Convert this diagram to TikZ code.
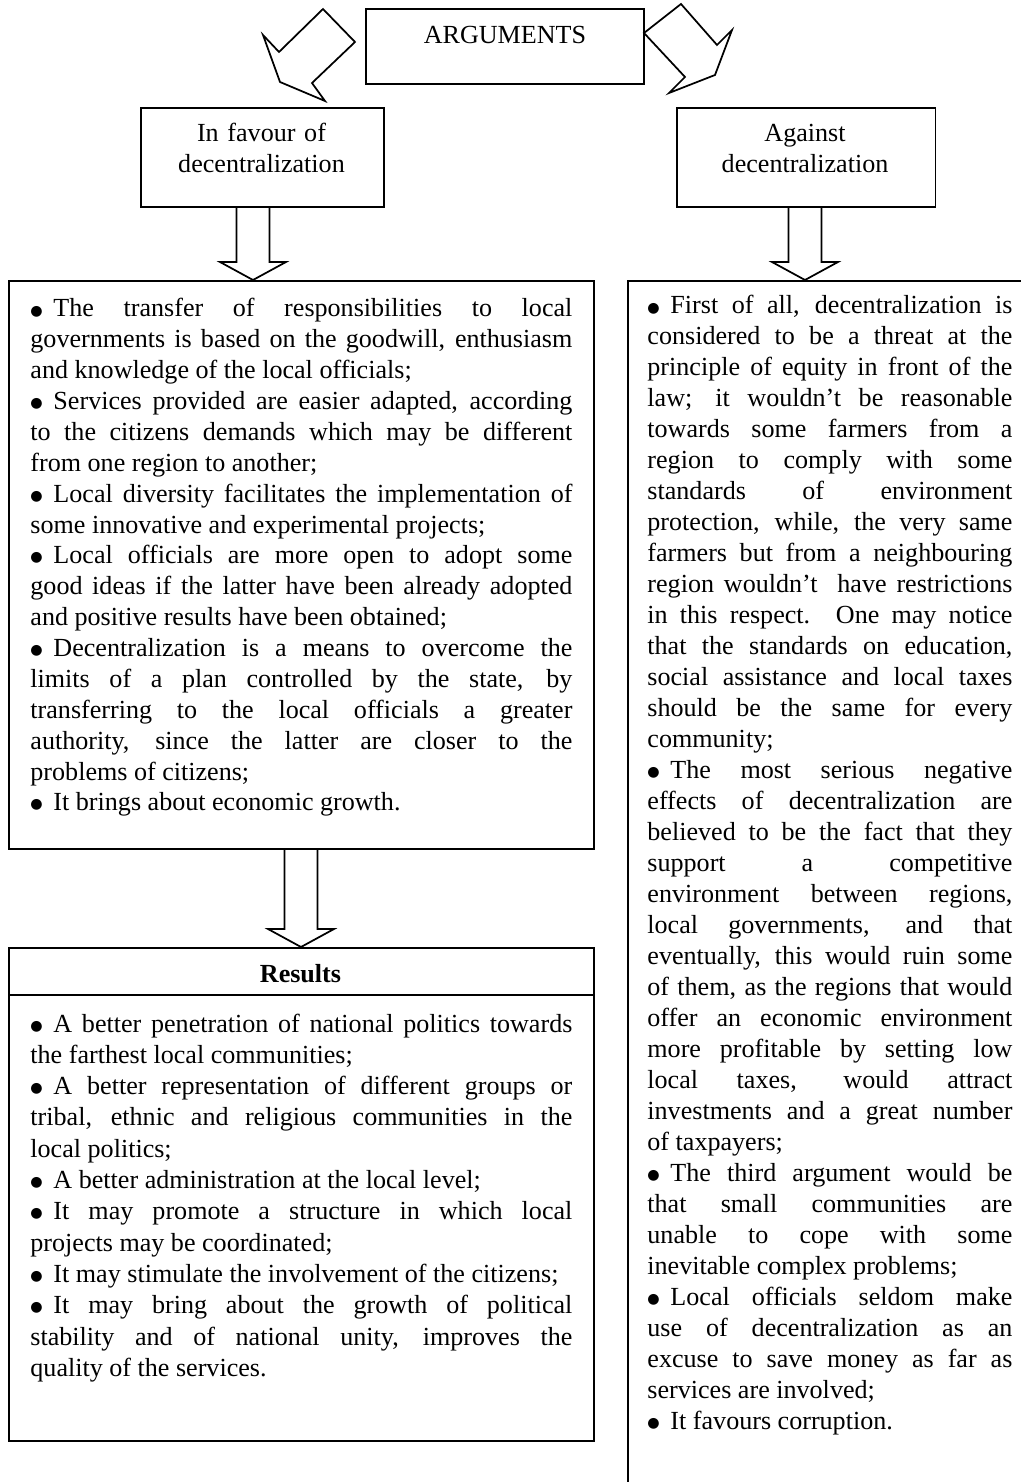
\documentclass[tikz,border=0pt]{standalone}
\usepackage{fontspec}
\setmainfont{Liberation Serif}
\newfontfamily\dotfont{DejaVu Sans}
\usepackage{tikz}
\usetikzlibrary{calc}
\tikzstyle{box} = [draw, line width=0.8pt, inner sep=0pt, anchor=north west]
\tikzstyle{blk} = [draw, line width=0.8pt, line join=miter]
\tikzstyle{txt} = [inner sep=0pt, anchor=base west, align=justify, font=\fontsize{12pt}{14.2pt}\selectfont]
\newcommand\bul{\makebox[10.6pt][l]{\raisebox{0.9pt}{\dotfont\fontsize{6.5pt}{6.5pt}\selectfont ●}}}
% hollow down arrow between two boxes
\newcommand\fatdown[3]{%
  \coordinate (fx) at (#1,0);
  \draw[blk] ($(fx |- #2.south)+(-16.5,0)$) -- ($(fx |- #3.north)+(-16.5,-18)$)
    -- ($(fx |- #3.north)+(-33,-18)$) -- (fx |- #3.north)
    -- ($(fx |- #3.north)+(33,-18)$) -- ($(fx |- #3.north)+(16.5,-18)$)
    -- ($(fx |- #2.south)+(16.5,0)$);}
\hyphenpenalty=10000
\exhyphenpenalty=10000
\tolerance=10000
\hbadness=10000

\begin{document}
\begin{tikzpicture}[x=0.46pt, y=-0.46pt]
\useasboundingbox (0,0) rectangle (1021,1482);
\clip (0,0) rectangle (1021,1482);

% Boxes
\node[box, minimum width=127.9pt, minimum height=34.5pt] (arg) at (365,8) {};
\node[box, minimum width=111.8pt, minimum height=45.5pt] (fav) at (140,107) {};
\node[box, minimum width=119pt, minimum height=45.5pt] (aga) at (676,107) {};
\node[box, minimum width=269.1pt, minimum height=261.3pt] (pro) at (8,280) {};
\node[box, minimum width=190pt, minimum height=561pt] (con) at (627,280) {};
\node[box, minimum width=269.1pt, minimum height=226.8pt] (res) at (8,947) {};
\coordinate (hd) at (0,995);
\draw[line width=0.8pt] (res.west |- hd) -- (res.east |- hd);

% Headings
\node[txt, anchor=base, align=center, text width=120pt] (argt) at (505,44) {ARGUMENTS};
\node[txt, anchor=base, align=center, text width=110pt] (favt) at (261.5,142) {In favour of\\decentralization};
\node[txt, anchor=base, align=center, text width=118pt] (agat) at (805,142) {Against\\decentralization};
\node[anchor=base, inner sep=0pt, font=\bfseries\fontsize{12pt}{14.2pt}\selectfont] (rest) at (300.5,982) {Results};

% Bent arrows
\draw[blk] (323,9) -- (355,42) -- (312,83) -- (325,101) -- (280,82) -- (263,35) -- (279,52) -- cycle;
\draw[blk] (681,4) -- (717,45) -- (732,30) -- (715,75) -- (669,93) -- (685,77) -- (644,33) -- cycle;

% Down arrows
\fatdown{253}{fav}{pro}
\fatdown{805}{aga}{con}
\fatdown{301}{pro}{res}

% In favour
\node[txt, text width=249.3pt] (prot) at (30,317) {%
\bul The transfer of responsibilities to local\linebreak
governments is based on the goodwill, enthusiasm\linebreak
and knowledge of the local officials;\par
\bul Services provided are easier adapted, according\linebreak
to the citizens demands which may be different\linebreak
from one region to another;\par
\bul Local diversity facilitates the implementation of\linebreak
some innovative and experimental projects;\par
\bul Local officials are more open to adopt some\linebreak
good ideas if the latter have been already adopted\linebreak
and positive results have been obtained;\par
\bul Decentralization is a means to overcome the\linebreak
limits of a plan controlled by the state, by\linebreak
transferring to the local officials a greater\linebreak
authority, since the latter are closer to the\linebreak
problems of citizens;\par
\bul It brings about economic growth.};

% Results
\node[txt, text width=249.3pt, font=\fontsize{12pt}{14.4pt}\selectfont] (rest2) at (30,1032) {%
\bul A better penetration of national politics towards\linebreak
the farthest local communities;\par
\bul A better representation of different groups or\linebreak
tribal, ethnic and religious communities in the\linebreak
local politics;\par
\bul A better administration at the local level;\par
\bul It may promote a structure in which local\linebreak
projects may be coordinated;\par
\bul It may stimulate the involvement of the citizens;\par
\hangindent=10.6pt \hangafter=1
\bul It may bring about the growth of political\linebreak
stability and of national unity, improves the\linebreak
quality of the services.};

% Against
\node[txt, text width=167.9pt, font=\fontsize{12pt}{14.25pt}\selectfont] (cont) at (647,314) {%
\bul First of all, decentralization is\linebreak
considered to be a threat at the\linebreak
principle of equity in front of the\linebreak
law; it wouldn’t be reasonable\linebreak
towards some farmers from a\linebreak
region to comply with some\linebreak
standards of environment\linebreak
protection, while, the very same\linebreak
farmers but from a neighbouring\linebreak
region wouldn’t\ \ have restrictions\linebreak
in this respect. One may notice\linebreak
that the standards on education,\linebreak
social assistance and local taxes\linebreak
should be the same for every\linebreak
community;\par
\bul The most serious negative\linebreak
effects of decentralization are\linebreak
believed to be the fact that they\linebreak
support a competitive\linebreak
environment between regions,\linebreak
local governments, and that\linebreak
eventually, this would ruin some\linebreak
of them, as the regions that would\linebreak
offer an economic environment\linebreak
more profitable by setting low\linebreak
local taxes, would attract\linebreak
investments and a great number\linebreak
of taxpayers;\par
\bul The third argument would be\linebreak
that small communities are\linebreak
unable to cope with some\linebreak
inevitable complex problems;\par
\bul Local officials seldom make\linebreak
use of decentralization as an\linebreak
excuse to save money as far as\linebreak
services are involved;\par
\bul It favours corruption.};
\end{tikzpicture}
\end{document}
